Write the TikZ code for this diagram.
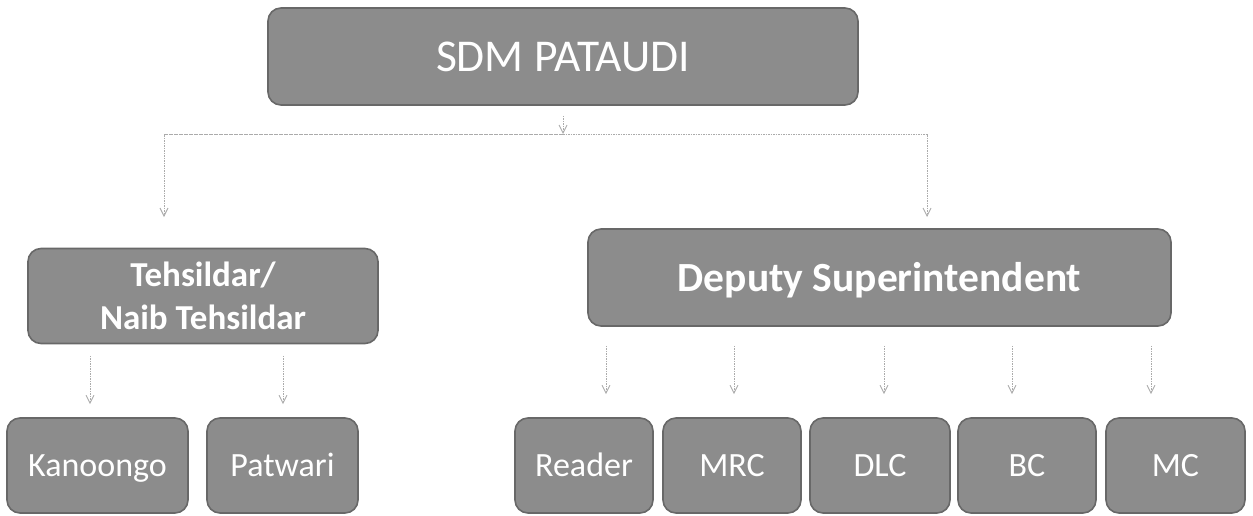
\documentclass[tikz,border=0pt]{standalone}
\usepackage{fontspec}
\setmainfont{Carlito}
\usetikzlibrary{arrows.meta}
\definecolor{boxfill}{HTML}{8C8C8C}
\definecolor{boxedge}{HTML}{686868}
\definecolor{linecol}{HTML}{ABABAB}
\tikzset{
  box/.style={draw=boxedge, line width=1.6pt, fill=boxfill, rounded corners=13pt,
    text=white, inner sep=0pt, align=center},
  one/.style={text height=#1, text depth=0pt},
  conn/.style={draw=linecol, line width=0.9pt, dash pattern=on 1.6pt off 0.9pt},
  arr/.style={conn, -{Straight Barb[length=8pt,width=8pt,line width=0.9pt]}},
}
\begin{document}
\begin{tikzpicture}[x=1pt,y=-1pt]
\useasboundingbox (0,0) rectangle (1253,515);

% top
\node[box, one=29pt, minimum width=590pt, minimum height=97pt, font=\fontsize{45.5}{54}\selectfont] (sdm) at (563,56.5) {SDM PATAUDI};

% middle
\node[box, minimum width=350pt, minimum height=95pt, font=\fontsize{35}{43}\selectfont\bfseries] (teh) at (203,296) {Tehsildar/\\Naib Tehsildar};
\node[box, one=27pt, minimum width=583pt, minimum height=97pt, font=\fontsize{41.5}{50}\selectfont\bfseries] (dep) at (879.5,277.5) {Deputy Superintendent};

% bottom
\tikzset{leaf/.style={box, one=22pt, minimum height=95pt, font=\fontsize{34}{40}\selectfont}}
\node[leaf, minimum width=181pt] (kan) at (97.5,465.5) {Kanoongo};
\node[leaf, minimum width=151pt] (pat) at (282.5,465.5) {Patwari};
\node[leaf, minimum width=138pt] (rea) at (584,465.5) {Reader};
\node[leaf, minimum width=138pt] (mrc) at (732,465.5) {MRC};
\node[leaf, minimum width=140pt] (dlc) at (880,465.5) {DLC};
\node[leaf, minimum width=138pt] (bc) at (1027,465.5) {BC};
\node[leaf, minimum width=139pt] (mc) at (1175.5,465.5) {MC};

% connectors from SDM
\coordinate (j) at (563,134);
\coordinate (tl) at (164,217);
\coordinate (tr) at (927,217);
\draw[arr] ([yshift=-10pt]sdm.south) -- (j);
\draw[arr] (j) -| (tl);
\draw[arr] (j) -| (tr);

% Tehsildar children
\draw[arr] ([xshift=-113pt,yshift=-11.5pt]teh.south) -- ([xshift=-7.5pt,yshift=13pt]kan.north);
\draw[arr] ([xshift=80pt,yshift=-11.5pt]teh.south) -- ([xshift=0.5pt,yshift=13pt]pat.north);

% Deputy children
\draw[arr] ([xshift=-273.5pt,yshift=-19pt]dep.south) -- ([xshift=22pt,yshift=23pt]rea.north);
\draw[arr] ([xshift=-145.5pt,yshift=-19pt]dep.south) -- ([xshift=2pt,yshift=23pt]mrc.north);
\draw[arr] ([xshift=4.5pt,yshift=-19pt]dep.south) -- ([xshift=4pt,yshift=23pt]dlc.north);
\draw[arr] ([xshift=132.5pt,yshift=-19pt]dep.south) -- ([xshift=-15pt,yshift=23pt]bc.north);
\draw[arr] ([xshift=271.5pt,yshift=-19pt]dep.south) -- ([xshift=-24.5pt,yshift=23pt]mc.north);
\end{tikzpicture}
\end{document}
